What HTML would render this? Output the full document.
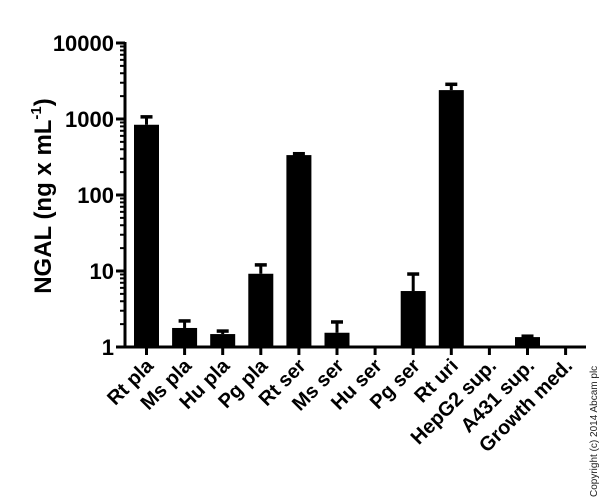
<!DOCTYPE html>
<html><head><meta charset="utf-8"><style>
html,body{margin:0;padding:0;background:#fff}
svg{display:block;font-family:"Liberation Sans",Arial,sans-serif}
</style></head><body>
<svg id="chart" width="600" height="501" viewBox="0 0 600 501">
<g id="axes"></g><g id="bars"></g><g id="labels"></g>
<text transform="translate(51,196) rotate(-90)" text-anchor="middle" font-size="24" font-weight="bold">NGAL (ng x mL<tspan font-size="15" dy="-10">-1</tspan><tspan dy="10">)</tspan></text>
<text transform="translate(597,497) rotate(-90)" font-size="10" fill="#222">Copyright (c) 2014 Abcam plc</text>
</svg>
<script>
const categories = ["Rt pla","Ms pla","Hu pla","Pg pla","Rt ser","Ms ser","Hu ser","Pg ser","Rt uri","HepG2 sup.","A431 sup.","Growth med."];
const means = [840, 1.78, 1.48, 9.2, 335, 1.54, null, 5.45, 2400, null, 1.35, null];
const errTops = [1100, 2.27, 1.67, 12.4, 360, 2.2, null, 9.4, 2950, null, 1.43, null];
const yTicks = [1, 10, 100, 1000, 10000];
const yTickLabels = ["1","10","100","1000","10000"];

const NS = "http://www.w3.org/2000/svg";
const x0 = 125, xEnd = 586, yBase = 347, decade = 76, step = 38.1, firstX = 146.5, bw = 25;
function yScale(v){ return yBase - Math.log10(v) * decade; }
function xScale(i){ return firstX + i * step; }
function mk(tag, attrs, parent){ const e = document.createElementNS(NS, tag); for (const k in attrs) e.setAttribute(k, attrs[k]); parent.appendChild(e); return e; }
const axes = document.getElementById('axes'), bars = document.getElementById('bars'), labels = document.getElementById('labels');

let yl = mk('line', {x1:x0, y1:yScale(10000)-1, x2:x0, y2:yBase+1.5, stroke:'#000', 'stroke-width':3}, axes);


let xl = mk('line', {x1:x0-1.5, y1:yBase, x2:xEnd, y2:yBase, stroke:'#000', 'stroke-width':3}, axes);



yTicks.forEach((v, i) => {
  const y = yScale(v);
  let t = mk('line', {x1:x0-9, y1:y, x2:x0, y2:y, stroke:'#000', 'stroke-width':3}, axes);
  
  
  let tx = mk('text', {x:x0-11, y:y+8, 'text-anchor':'end', 'font-size':22, 'font-weight':'bold'}, axes);
  tx.textContent = yTickLabels[i];
  
  
  if (i < yTicks.length - 1) {
    for (let m = 2; m <= 9; m++) {
      const ym = yScale(v * m);
      let mt = mk('line', {x1:x0-5, y1:ym, x2:x0, y2:ym, stroke:'#000', 'stroke-width':2}, axes);
      
      
    }
  }
});

categories.forEach((c, i) => {
  const cx = xScale(i);
  let t = mk('line', {x1:cx, y1:yBase, x2:cx, y2:yBase+8, stroke:'#000', 'stroke-width':3}, axes);
  
  
  let lb = mk('text', {'text-anchor':'end', 'font-size':20, 'font-weight':'bold', transform:`translate(${cx+8},${yBase+20}) rotate(-45)`}, labels);
  lb.textContent = c;
  
  
  if (means[i] !== null) {
    const yt = yScale(means[i]);
    let b = mk('rect', {x:cx-bw/2, y:yt, width:bw, height:yBase-yt, fill:'#000'}, bars);
    
    
    if (errTops[i] !== null) {
      const ye = yScale(errTops[i]);
      let s = mk('line', {x1:cx, y1:ye, x2:cx, y2:yt, stroke:'#000', 'stroke-width':3}, bars);
      
      
      let cap = mk('line', {x1:cx-6, y1:ye+1, x2:cx+6, y2:ye+1, stroke:'#000', 'stroke-width':3.5}, bars);
      
      
    }
  }
});
</script>
</body></html>
